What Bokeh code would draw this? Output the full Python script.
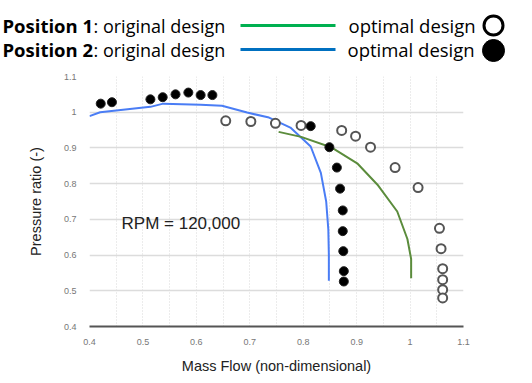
from bokeh.plotting import figure
from bokeh.models import Range1d, FixedTicker, Label
from bokeh.core.properties import value
from bokeh.embed import file_html
from bokeh.resources import INLINE

# ---- data ----
p2_orig_x = [0.400, 0.420, 0.514, 0.538, 0.608, 0.648, 0.695, 0.736, 0.776, 0.814, 0.833, 0.843, 0.847, 0.848, 0.848]
p2_orig_y = [0.989, 1.000, 1.015, 1.024, 1.021, 1.018, 0.999, 0.985, 0.957, 0.904, 0.830, 0.750, 0.672, 0.600, 0.528]

p1_orig_x = [0.754, 0.796, 0.852, 0.901, 0.939, 0.976, 0.995, 1.002, 1.002]
p1_orig_y = [0.945, 0.931, 0.902, 0.857, 0.797, 0.722, 0.645, 0.589, 0.535]

p2_opt_x = [0.421, 0.442, 0.514, 0.537, 0.561, 0.585, 0.608, 0.630, 0.814, 0.849, 0.863, 0.869, 0.874, 0.874, 0.875, 0.876, 0.876]
p2_opt_y = [1.024, 1.028, 1.036, 1.042, 1.050, 1.055, 1.048, 1.048, 0.961, 0.902, 0.845, 0.786, 0.725, 0.667, 0.611, 0.555, 0.526]

p1_opt_x = [0.655, 0.702, 0.748, 0.796, 0.872, 0.898, 0.926, 0.972, 1.015, 1.055, 1.058, 1.061, 1.061, 1.061, 1.061]
p1_opt_y = [0.976, 0.974, 0.969, 0.963, 0.949, 0.933, 0.902, 0.845, 0.789, 0.675, 0.618, 0.562, 0.531, 0.503, 0.480]

x_ticks = [0.4, 0.5, 0.6, 0.7, 0.8, 0.9, 1.0, 1.1]
x_tick_labels = ["0.4", "0.5", "0.6", "0.7", "0.8", "0.9", "1", "1.1"]
y_ticks = [0.4, 0.5, 0.6, 0.7, 0.8, 0.9, 1.0, 1.1]
y_tick_labels = ["0.4", "0.5", "0.6", "0.7", "0.8", "0.9", "1", "1.1"]
x_minor_grid = [0.4, 0.45, 0.5, 0.55, 0.6, 0.65, 0.7, 0.75, 0.8, 0.85, 0.9, 0.95, 1.0, 1.05, 1.1]

GREEN_LEG = "#00b050"
BLUE_LEG = "#0070c0"
BLUE = "#4a7df5"
GREEN = "#5b8c3c"
FONT = "Open Sans"
AFONT = "Liberation Sans"

# ---- header (legend) ----
W = 532
HH = 62
hdr = figure(width=W, height=HH, x_range=Range1d(0, W), y_range=Range1d(HH, 0),
             output_backend="svg", toolbar_location=None,
             min_border_left=0, min_border_right=0,
             min_border_top=0, min_border_bottom=0)
hdr.axis.visible = False
hdr.grid.visible = False
hdr.outline_line_color = None
hdr.background_fill_color = "white"

rows_y = [25, 49]
hdr.text(x=[2, 2], y=rows_y, text=["Position 1", "Position 2"],
         text_font=value(FONT), text_font_style="bold", text_font_size="18.5px",
         text_baseline="middle", text_align="left", text_color="black")
hdr.text(x=[93, 93], y=rows_y, text=[": original design", ": original design"],
         text_font=value(FONT), text_font_size="18px",
         text_baseline="middle", text_align="left", text_color="black")
hdr.line(x=[240, 335], y=[25, 25], line_color=GREEN_LEG, line_width=3)
hdr.line(x=[240, 335], y=[49, 49], line_color=BLUE_LEG, line_width=3)
hdr.text(x=[348, 347], y=rows_y, text=["optimal design", "optimal design"],
         text_font=value(FONT), text_font_size="18.5px",
         text_baseline="middle", text_align="left", text_color="black")
hdr.scatter(x=[493], y=[25], size=19, marker="circle", fill_color="white",
            line_color="black", line_width=3)
hdr.scatter(x=[493], y=[50], size=22, marker="circle", fill_color="black",
            line_color="black", line_width=1)

# ---- main chart ----
p = figure(width=W, height=320, x_range=Range1d(0.4, 1.1), y_range=Range1d(0.4, 1.1),
           output_backend="svg", toolbar_location=None,
           min_border_left=89, min_border_right=69, min_border_top=14, min_border_bottom=56)
p.outline_line_color = None
p.background_fill_color = "white"

p.xaxis.ticker = FixedTicker(ticks=x_ticks)
p.yaxis.ticker = FixedTicker(ticks=y_ticks)
p.xaxis.major_label_overrides = dict(zip(x_ticks, x_tick_labels))
p.yaxis.major_label_overrides = dict(zip(y_ticks, y_tick_labels))

for ax in (p.xaxis[0], p.yaxis[0]):
    ax.major_tick_line_color = None
    ax.minor_tick_line_color = None
    ax.major_label_text_font = AFONT
    ax.major_label_text_font_size = "9px"
    ax.major_label_text_color = "#777777"
    ax.axis_label_text_font = AFONT
    ax.axis_label_text_font_size = "14.5px"
    ax.axis_label_text_font_style = "normal"
    ax.axis_label_text_color = "#222222"

p.xaxis.axis_line_color = "#555555"
p.xaxis.axis_line_width = 2
p.yaxis.axis_line_color = None
p.xaxis.major_label_standoff = 6
p.yaxis.major_label_standoff = 7
p.xaxis.axis_label = "Mass Flow (non-dimensional)"
p.yaxis.axis_label = "Pressure ratio (-)"
p.xaxis.axis_label_standoff = 10
p.yaxis.axis_label_standoff = 17

p.xgrid.ticker = FixedTicker(ticks=x_minor_grid)
p.xgrid.grid_line_color = "#d8d8d8"
p.xgrid.grid_line_dash = "1 2"
p.xgrid.grid_line_width = 1
p.ygrid.ticker = FixedTicker(ticks=y_ticks)
p.ygrid.grid_line_color = "#dcdcdc"
p.ygrid.grid_line_width = 1.5

p.line(p2_orig_x, p2_orig_y, line_color=BLUE, line_width=2)
p.line(p1_orig_x, p1_orig_y, line_color=GREEN, line_width=2)
p.scatter(p1_opt_x, p1_opt_y, marker="circle", size=9, fill_color="white",
          line_color="#555555", line_width=2)
p.scatter(p2_opt_x, p2_opt_y, marker="circle", size=9, fill_color="black",
          line_color="#222222", line_width=1)

p.add_layout(Label(x=0.46, y=0.689, text="RPM = 120,000", text_font=AFONT,
                   text_font_size="17px", text_color="#222222",
                   text_baseline="middle", text_align="left"))

open("out.html", "w").write(file_html([hdr, p], INLINE))
